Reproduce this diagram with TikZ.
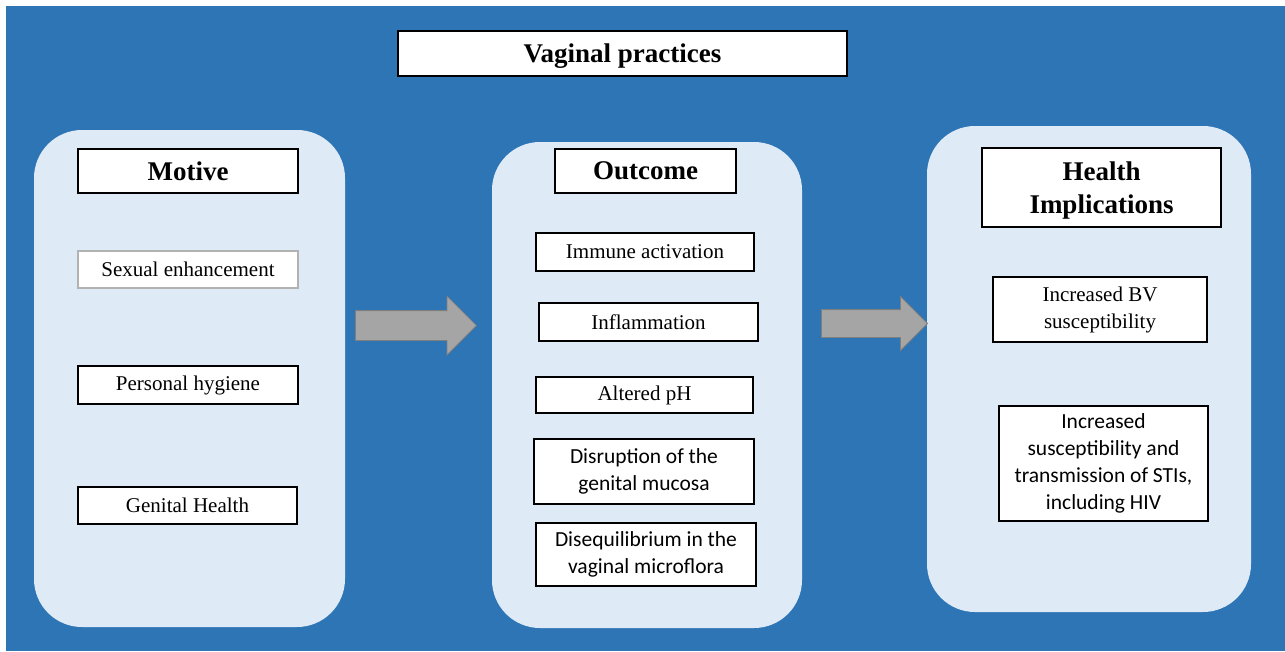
\documentclass[tikz,border=0pt]{standalone}
\usepackage{fontspec}
\setmainfont{Liberation Serif}
\newfontfamily\calfont{Carlito}
\usetikzlibrary{shapes.arrows}
\definecolor{bgblue}{HTML}{2E75B6}
\definecolor{panelblue}{HTML}{DEEBF7}
\definecolor{arrowgray}{HTML}{A5A5A5}
\definecolor{arrowedge}{HTML}{7F7F7F}
\tikzset{
  panel/.style={fill=panelblue, draw=none, rounded corners=48pt},
  box/.style={draw=black, fill=white, line width=1.1pt, inner sep=0pt, align=center, font=\fontsize{21}{27}\selectfont},
  calbox/.style={box, font=\calfont\fontsize{21.5}{27}\selectfont},
  headbox/.style={box, font=\bfseries\fontsize{27}{33}\selectfont, text depth=0pt},
  blockarrow/.style={single arrow, fill=arrowgray, draw=arrowedge, line width=0.8pt, inner xsep=0pt, shape border rotate=0, single arrow head indent=0pt}
}
\begin{document}
\begin{tikzpicture}[x=1pt, y=-1pt]
\useasboundingbox (0,0) rectangle (1285,651);
\fill[white] (0,0) rectangle (1285,651);
\fill[bgblue] (6,6) rectangle (1285,651);
% panels
\path[panel] (34,130) rectangle (345,627);
\path[panel] (492,142) rectangle (802,628);
\path[panel] (927,126) rectangle (1251,612);
% title
\node[headbox, minimum width=449pt, minimum height=45pt] (title) at (622.5,53.5) {Vaginal practices};
% motive column
\node[headbox, minimum width=220pt, minimum height=44pt] (motive) at (188,171) {Motive};
\node[box, draw=black!30, minimum width=220pt, minimum height=37pt] (sexual) at (188,269.5) {Sexual enhancement};
\node[box, minimum width=220pt, minimum height=38pt] (hygiene) at (188,385) {Personal hygiene};
\node[box, minimum width=219pt, minimum height=37pt] (genital) at (187.5,505.5) {Genital Health};
% outcome column
\node[headbox, minimum width=181pt, minimum height=44pt] (outcome) at (645.5,171) {Outcome};
\node[box, minimum width=218pt, minimum height=38pt] (immune) at (645,252) {Immune activation};
\node[box, minimum width=219pt, minimum height=38pt] (inflam) at (648.5,322) {Inflammation};
\node[box, minimum width=217pt, minimum height=36pt] (ph) at (644.5,395) {Altered pH};
\node[calbox, minimum width=220pt, minimum height=65pt] (mucosa) at (644,471.5) {Disruption of the\\genital mucosa};
\node[calbox, minimum width=220pt, minimum height=63pt] (flora) at (646,554.5) {Disequilibrium in the\\vaginal microflora};
% health column
\node[headbox, minimum width=239pt, minimum height=79pt] (health) at (1101.5,187.5) {Health\\Implications};
\node[box, minimum width=214pt, minimum height=65pt] (bv) at (1100,309.5) {Increased BV\\susceptibility};
\node[calbox, minimum width=209pt, minimum height=115pt] (sti) at (1103.5,463.5) {Increased\\susceptibility and\\transmission of STIs,\\including HIV};
% arrows
\node[blockarrow, inner ysep=14.5pt, minimum height=121pt, single arrow head extend=14.5pt, anchor=tip] (arrowA) at (477,325.5) {};
\node[blockarrow, inner ysep=13.5pt, minimum height=106pt, single arrow head extend=13pt, anchor=tip] (arrowB) at (928,323.5) {};
\end{tikzpicture}
\end{document}
